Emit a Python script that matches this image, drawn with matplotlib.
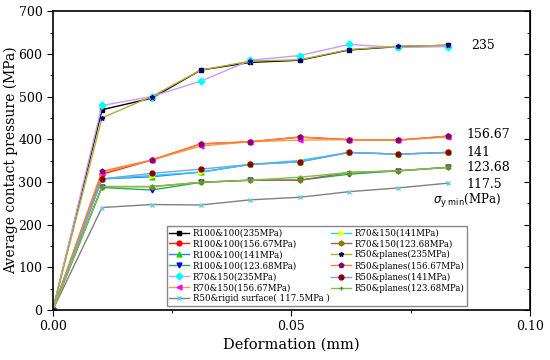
import matplotlib
matplotlib.use("Agg")
import matplotlib.pyplot as plt
from matplotlib.ticker import MultipleLocator

plt.rcParams['font.family'] = ['DejaVu Serif']

deformation = [0, 0.0103, 0.0207, 0.031, 0.0414, 0.0517, 0.062, 0.0724, 0.0827]

r100_235 = [0, 469, 496, 562, 580, 585, 609, 617, 620]
r100_156 = [0, 318, 351, 389, 394, 405, 399, 398, 407]
r100_141 = [0, 307, 312, 323, 341, 347, 369, 365, 369]
r100_123 = [0, 287, 281, 299, 304, 304, 318, 326, 334]
r70_235 = [0, 479, 500, 536, 585, 596, 622, 615, 617]
r70_156 = [0, 322, 351, 384, 394, 398, 399, 398, 405]
r50_rigid = [0, 240, 247, 246, 258, 264, 277, 286, 297]
r70_141 = [0, 307, 315, 323, 341, 350, 369, 365, 369]
r70_123 = [0, 289, 289, 299, 304, 304, 322, 326, 334]
r50_235 = [0, 450, 500, 562, 583, 586, 610, 618, 620]
r50_156 = [0, 325, 351, 389, 394, 405, 399, 398, 407]
r50_141 = [0, 307, 320, 330, 341, 347, 369, 365, 369]
r50_123 = [0, 289, 289, 299, 304, 311, 322, 326, 334]

labels = ['R100&100(235MPa)', 'R100&100(156.67MPa)', 'R100&100(141MPa)',
          'R100&100(123.68MPa)', 'R70&150(235MPa)', 'R70&150(156.67MPa)',
          'R50&rigid surface( 117.5MPa )', 'R70&150(141MPa)', 'R70&150(123.68MPa)',
          'R50&planes(235MPa)', 'R50&planes(156.67MPa)', 'R50&planes(141MPa)',
          'R50&planes(123.68MPa)']
series = [r100_235, r100_156, r100_141, r100_123, r70_235, r70_156, r50_rigid,
          r70_141, r70_123, r50_235, r50_156, r50_141, r50_123]

# (line colour, marker, marker colour)
styles = [
    ('#000000', 's', '#000000'),
    ('#ff2020', 'o', '#ff0000'),
    ('#3b7dff', '^', '#00dd00'),
    ('#20b050', 'v', '#0000ff'),
    ('#cc99ff', 'D', '#00ffff'),
    ('#f0a040', '<', '#ff00ff'),
    ('#808080', 'x', '#66ccdd'),
    ('#20d0f0', '>', '#ffff00'),
    ('#a06060', 'h', '#808000'),
    ('#b0b030', '*', '#000080'),
    ('#ff7f30', 'p', '#800080'),
    ('#6fa8dc', 'o', '#8b0000'),
    ('#80c040', '+', '#40a040'),
]

fig, ax = plt.subplots(figsize=(5.5, 3.6), dpi=100)
fig.subplots_adjust(left=0.096, right=0.964, bottom=0.139, top=0.969)

for y, lab, (lc, mk, mc) in zip(series, labels, styles):
    ax.plot(deformation, y, color=lc, lw=1, marker=mk, ms=3.5,
            mfc=mc, mec=mc, label=lab)

ax.set_xlim(0, 0.1)
ax.set_ylim(0, 700)
ax.xaxis.set_minor_locator(MultipleLocator(0.025))
ax.yaxis.set_major_locator(MultipleLocator(100))
ax.yaxis.set_minor_locator(MultipleLocator(50))
ax.set_xticks([0, 0.05, 0.1], ['0.00', '0.05', '0.10'])
ax.tick_params(which='both', direction='out', labelsize=9)
ax.tick_params(which='major', length=4)
ax.tick_params(which='minor', length=2.5)
for s in ax.spines.values():
    s.set_linewidth(1.2)

# mirrored ticks on the right, pointing inward
right = ax.secondary_yaxis('right')
right.yaxis.set_major_locator(MultipleLocator(100))
right.yaxis.set_minor_locator(MultipleLocator(50))
right.tick_params(which='both', direction='in', labelright=False)
right.tick_params(which='major', length=4)
right.tick_params(which='minor', length=2.5)

ax.set_xlabel('Deformation (mm)', fontsize=10.5, labelpad=3)
ax.set_ylabel('Average contact pressure (MPa)', fontsize=10)
ax.yaxis.set_label_coords(-0.072, 0.5)

end_x = deformation[-1] + 0.004
ax.text(end_x + 0.001, 620, '235', fontsize=9, va='center')
ax.text(end_x, 410, '156.67', fontsize=9, va='center')
ax.text(end_x, 369, '141', fontsize=9, va='center')
ax.text(end_x, 333, '123.68', fontsize=9, va='center')
ax.text(end_x, 294, '117.5', fontsize=9, va='center')
ax.text(0.0797, 256, r'$\sigma_{\mathrm{y\ min}}$(MPa)', fontsize=8.5, va='center')

ax.legend(ncol=2, fontsize=6.2, loc='lower left', bbox_to_anchor=(0.23, 0.0),
          handlelength=2.3, columnspacing=0.2, labelspacing=0.22,
          handletextpad=0.4, borderpad=0.3, fancybox=False, edgecolor='#888888',
          framealpha=1)

fig.savefig('out.png', dpi=100)
